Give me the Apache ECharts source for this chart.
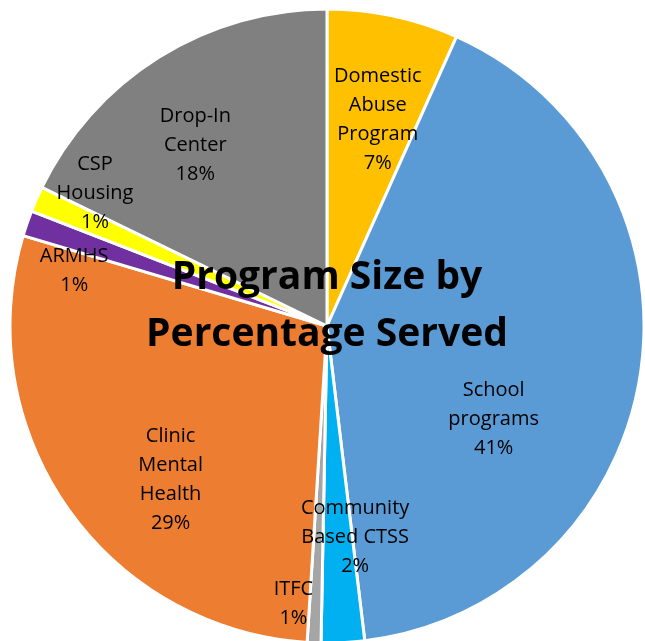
<!DOCTYPE html>
<html>
<head>
<meta charset="utf-8">
<script src="https://cdn.jsdelivr.net/npm/echarts@6/dist/echarts.min.js"></script>
<style>
  html, body { margin: 0; padding: 0; background: #fff; }
  #chartDom { width: 645px; height: 641px; }
</style>
</head>
<body>
<div id="chartDom"></div>
<script>
// slices, clockwise from 12 o'clock
var programs = ['Domestic\nAbuse\nProgram', 'School\nprograms', 'Community\nBased CTSS', 'ITFC',
    'Clinic\nMental\nHealth', 'ARMHS', 'CSP\nHousing', 'Drop-In\nCenter'];
var shares = [6.7, 41.4, 2.2, 0.7, 28.6, 1.3, 1.3, 17.8];
var colors = ['#FFC000', '#5B9BD5', '#00B0F0', '#A5A5A5', '#ED7D31', '#7030A0', '#FFFF00', '#808080'];
// nudges from the default inside label spot
var labelOffsets = [[17, -48], [7, 69], [20, 50], [-27, 116], [-24, 61], [-100, -3], [-84, -68], [-46, -44]];

var chartDom = document.getElementById('chartDom');
var myChart = echarts.init(chartDom);

var data = programs.map(function (name, i) {
    return {
        name: name,
        value: shares[i],
        itemStyle: {color: colors[i]},
        label: {offset: labelOffsets[i]}
    };
});

var option = {
    animation: false,
    title: {
        text: 'Program Size by\nPercentage Served',
        left: 327,
        top: 249,
        padding: 0,
        textAlign: 'center',
        textStyle: {
            fontFamily: 'Open Sans',
            fontWeight: 'bold',
            fontSize: 39,
            lineHeight: 57,
            color: '#000'
        },
        z: 10
    },
    series: [
        {
            type: 'pie',
            center: [327, 326],
            radius: 317,
            startAngle: 90,
            clockwise: true,
            percentPrecision: 0,
            avoidLabelOverlap: false,
            minShowLabelAngle: 0,
            itemStyle: {
                borderColor: '#fff',
                borderWidth: 3
            },
            label: {
                show: true,
                position: 'inside',
                formatter: '{b}\n{d}%',
                fontFamily: 'Open Sans',
                fontSize: 20,
                lineHeight: 29,
                color: '#000'
            },
            labelLayout: {hideOverlap: false},
            labelLine: {show: false},
            emphasis: {disabled: true},
            data: data
        }
    ]
};
myChart.setOption(option);
</script>
</body>
</html>
